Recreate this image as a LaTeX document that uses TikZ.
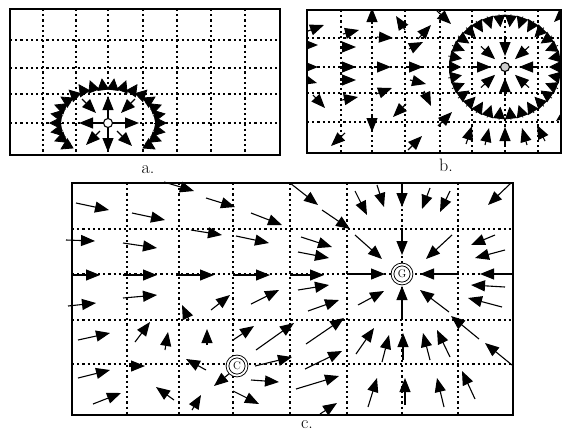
\documentclass[tikz,border=0pt]{standalone}
\usepackage{tikz}
\usetikzlibrary{arrows.meta}

\begin{document}
\begin{tikzpicture}[
    x=1pt, y=-1pt,
    panel/.style={draw, line width=1.3pt},
    gridline/.style={line width=2.2pt, dash pattern=on 2.2pt off 3pt},
    vec/.style={-{Triangle[length=14pt, width=11pt]}, line width=1.1pt},
    spike/.style={-{Triangle[length=12pt, width=12pt]}, line width=0.8pt},
    hole/.style={draw, circle, inner sep=0pt, minimum size=9pt, line width=1.1pt},
    charge/.style={draw, circle, double, double distance=1.8pt, line width=0.9pt, inner sep=0.5pt, minimum size=19pt, font=\fontsize{11}{11}\selectfont},
    lbl/.style={font=\fontsize{18}{18}\selectfont}
]
\useasboundingbox (0,0) rectangle (564,432);

% panel a
\foreach \x in {43,76,108,143,177,211,245} \draw[gridline] (\x,9) -- (\x,155);
\foreach \y in {40,68,94,123} \draw[gridline] (10,\y) -- (280,\y);
\begin{scope}
\clip (10,9) rectangle (280,155);
\foreach \a in {-36,-24,...,216}
    \draw[spike] ({108+46*cos(\a)},{123-34*sin(\a)}) -- ({108+59*cos(\a)},{123-45*sin(\a)});
\foreach \xa/\ya/\xb/\yb in {108/119/108/96, 108/127/108/152, 104/123/79/123, 112/123/139/123,
    82/99/96/113, 135/99/121/113, 100/131/86/145, 117/131/132/146}
    \draw[vec] (\xa,\ya) -- (\xb,\yb);
\end{scope}
\node[hole, fill=white] (srcA) at (108,123) {};
\draw[panel] (10,9) rectangle (280,155);
\node[lbl] (lblA) at (148,170) {a.};

% panel b
\foreach \x in {341,372,405,440,472,505,538} \draw[gridline] (\x,10) -- (\x,153);
\foreach \y in {38,67,93,122} \draw[gridline] (307,\y) -- (561,\y);
\begin{scope}
\clip (307,10) rectangle (561,153);
\foreach \a in {0,12,...,348}
    \draw[spike] ({505+58*cos(\a)},{67-53*sin(\a)}) -- ({505+44*cos(\a)},{67-40*sin(\a)});
\foreach \a in {0,45,...,315}
    \draw[vec] ({505+34*cos(\a)},{67-29*sin(\a)}) -- ({505+14*cos(\a)},{67-11*sin(\a)});
\foreach \xa/\ya/\xb/\yb in {308/31/324/25, 343/34/359/30, 372/24/372/8, 405/30/396/16, 418/39/431/25,
    302/45/318/45, 340/47/356/47, 377/37/393/38, 409/49/423/42,
    302/67/318/67, 340/67/356/67, 374/67/391/67, 407/67/423/67,
    302/79/317/83, 340/80/356/80, 376/94/392/88, 410/80/426/84,
    313/95/325/108, 342/100/358/97, 424/91/431/106, 406/104/393/117,
    372/115/372/132, 345/133/331/146, 408/150/422/136, 438/126/452/112,
    436/10/451/24, 568/8/554/22, 568/112/556/121,
    466/144/472/126, 485/145/489/128, 505/145/505/127, 527/145/522/128, 545/141/537/125}
    \draw[vec] (\xa,\ya) -- (\xb,\yb);
\end{scope}
\node[hole, fill=gray!40] (sinkB) at (505,67) {};
\draw[panel] (307,10) rectangle (561,153);
\node[lbl] (lblB) at (446,165) {b.};

% panel c
\foreach \x in {127,179,233,290,347,402,458} \draw[gridline] (\x,183) -- (\x,415);
\foreach \y in {229,274,320,364} \draw[gridline] (72,\y) -- (513,\y);
\foreach \xa/\ya/\xb/\yb in {76/203/109/210, 132/213/165/220, 164/182/194/191, 206/198/235/207,
    251/213/282/225, 290/183/318/205, 322/210/350/229, 355/191/367/215, 377/185/384/207,
    402/183/402/207, 430/188/422/209, 450/191/440/212, 511/183/488/205,
    66/240/95/241, 123/243/157/248, 191/230/222/235, 236/236/269/243, 301/237/332/247,
    298/252/329/258, 355/235/382/259, 402/228/402/255, 452/235/426/259, 495/235/471/245,
    505/250/475/258,
    72/275/100/275, 123/275/157/275, 176/275/214/275, 233/275/270/275, 290/275/324/275,
    347/274/385/274, 458/274/420/274, 512/274/480/274,
    68/306/96/303, 123/298/157/295, 211/310/230/295, 251/304/279/290, 298/290/329/285,
    308/311/339/300, 358/305/384/291, 402/319/402/286, 449/312/420/290, 505/287/471/285,
    502/307/468/298, 189/320/182/305,
    78/340/110/333, 135/342/150/322, 165/350/168/332, 207/345/207/329, 233/340/254/326,
    256/350/294/323, 306/344/344/318, 356/354/374/328, 382/362/389/335, 403/360/403/333,
    430/360/423/333, 450/357/437/330, 479/339/451/316, 512/365/485/343,
    78/378/110/370, 129/366/145/366, 206/370/186/359, 255/366/292/357, 305/369/342/351,
    230/373/214/386, 251/380/279/382, 296/389/339/376, 93/404/121/393, 174/400/156/387,
    192/410/201/395, 233/391/259/404, 320/414/337/403, 475/399/462/371, 368/407/377/378,
    405/405/405/378, 444/407/437/378}
    \draw[vec] (\xa,\ya) -- (\xb,\yb);
\node[charge, fill=white] (sinkG) at (402,274) {G};
\node[charge, fill=white] (srcC) at (237,366) {C};
\draw[panel] (72,183) rectangle (513,415);
\node[lbl] (lblC) at (307,425) {c.};

\end{tikzpicture}
\end{document}
